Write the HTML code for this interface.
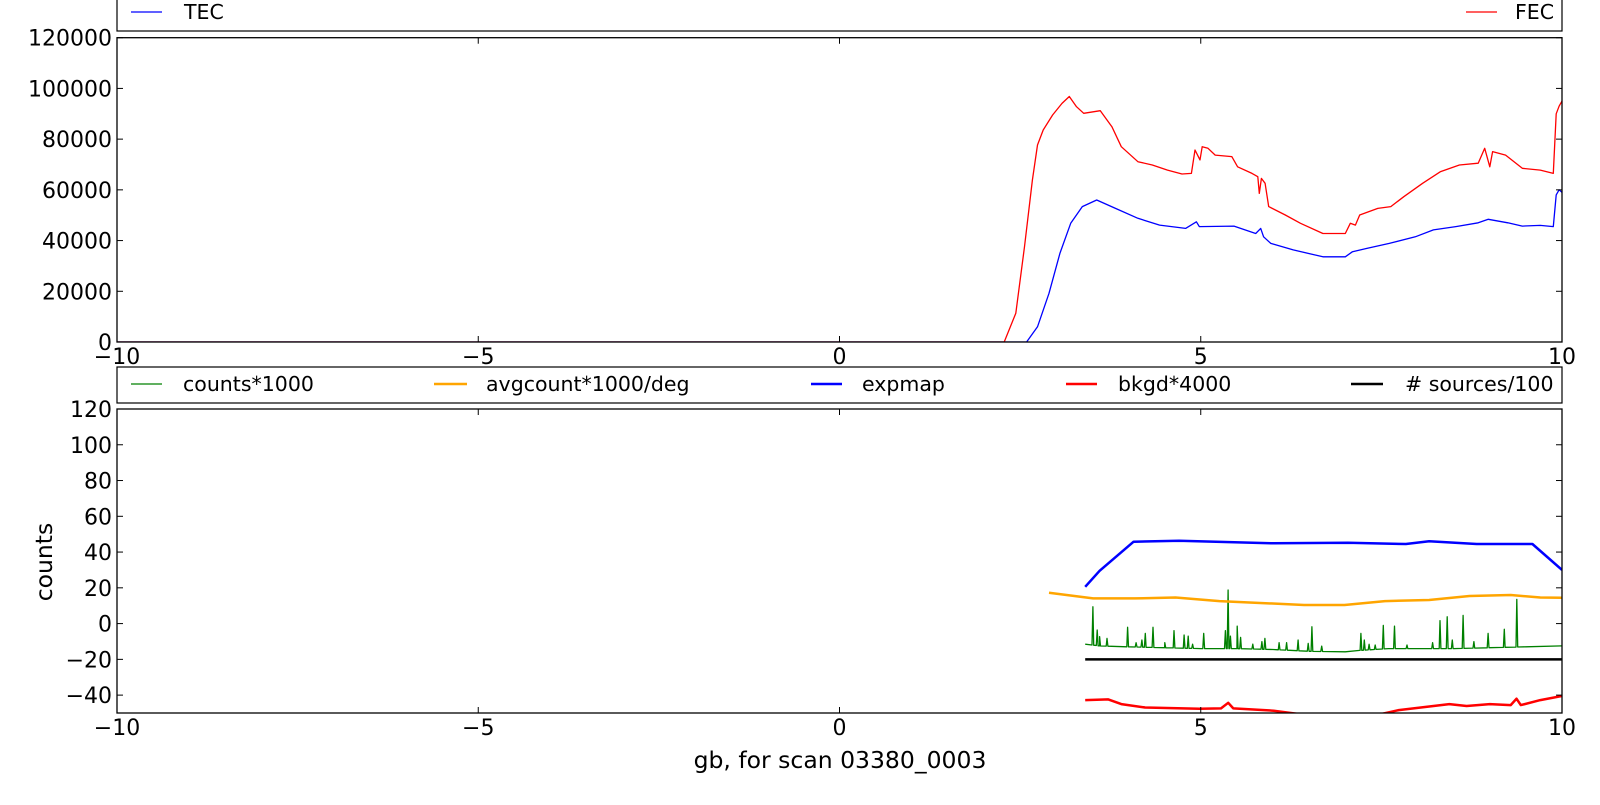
<!DOCTYPE html>
<html><head><meta charset="utf-8"><style>
body{margin:0;background:#fff;}
svg text{font-family:"DejaVu Sans","Liberation Sans",sans-serif;font-size:22px;fill:#000;}
svg text.leg{font-size:20.5px;}
svg text.ttl{font-size:23.5px;}
</style></head><body>
<svg id="chart" width="1600" height="800" xmlns="http://www.w3.org/2000/svg">
<defs>
<clipPath id="clipTop"><rect x="117" y="37.7" width="1445" height="304.3"/></clipPath>
<clipPath id="clipBot"><rect x="117" y="409" width="1445" height="304"/></clipPath>
</defs>
<g id="top-legend">
<rect x="117" y="-2" width="1445" height="33" fill="#fff" stroke="#000" stroke-width="1.2"/>
<line x1="131" y1="12" x2="162" y2="12" stroke="#0000ff" stroke-width="1.2"/>
<text class="leg" x="184" y="19">TEC</text>
<line x1="1466" y1="12" x2="1497" y2="12" stroke="#ff0000" stroke-width="1.2"/>
<text class="leg" x="1515" y="19">FEC</text>
</g>
<g id="bot-legend">
<rect x="117" y="367" width="1445" height="36" fill="#fff" stroke="#000" stroke-width="1.2"/>
<line x1="131" y1="384" x2="162" y2="384" stroke="#008000" stroke-width="1.2"/>
<text class="leg" x="183" y="391">counts*1000</text>
<line x1="434" y1="384" x2="467" y2="384" stroke="#ffa500" stroke-width="2.5"/>
<text class="leg" x="486" y="391">avgcount*1000/deg</text>
<line x1="811" y1="384" x2="842" y2="384" stroke="#0000ff" stroke-width="2.5"/>
<text class="leg" x="862" y="391">expmap</text>
<line x1="1066" y1="384" x2="1097" y2="384" stroke="#ff0000" stroke-width="2.5"/>
<text class="leg" x="1118" y="391">bkgd*4000</text>
<line x1="1351" y1="384" x2="1383" y2="384" stroke="#000" stroke-width="2.5"/>
<text class="leg" x="1405" y="391"># sources/100</text>
</g>
<g id="layer"></g>
<text class="ttl" x="52" y="562" text-anchor="middle" transform="rotate(-90 52 562)">counts</text>
<text class="ttl" x="840" y="768" text-anchor="middle">gb, for scan 03380_0003</text>
</svg>
<script>
const xTicks=[-10,-5,0,5,10];
const topYTicks=[0,20000,40000,60000,80000,100000,120000];
const botYTicks=[-40,-20,0,20,40,60,80,100,120];
const fecX=[-10,2.28,2.44,2.56,2.67,2.74,2.82,2.95,3.08,3.18,3.28,3.38,3.61,3.77,3.90,4.13,4.33,4.54,4.74,4.87,4.92,4.99,5.02,5.10,5.20,5.43,5.51,5.71,5.79,5.81,5.84,5.89,5.94,6.17,6.38,6.69,7.00,7.07,7.14,7.20,7.45,7.63,7.81,8.07,8.32,8.58,8.84,8.93,9.00,9.04,9.22,9.45,9.70,9.88,9.92,9.96,10];
const fecY=[0,0,11300,37600,63900,77700,83600,89500,94100,96800,92800,90200,91200,84900,77000,71100,69800,67800,66250,66500,75700,71800,77000,76400,73700,73100,69100,66500,65200,58600,64500,62600,53400,50100,46800,42800,42800,46800,46100,50100,52700,53400,57300,62600,67200,69800,70500,76400,69100,75100,73700,68500,67800,66500,90000,93000,95000];
const tecX=[-10,2.59,2.74,2.90,3.05,3.20,3.36,3.56,3.82,4.13,4.43,4.79,4.94,4.98,5.46,5.76,5.83,5.87,5.97,6.28,6.69,7.00,7.10,7.30,7.61,7.97,8.22,8.53,8.84,8.98,9.25,9.45,9.70,9.88,9.92,9.96,10];
const tecY=[0,0,6000,19200,34950,46800,53400,56000,52700,48800,46100,44800,47400,45500,45700,42800,44800,41500,38900,36300,33600,33600,35600,36900,38900,41500,44200,45500,47000,48400,47000,45700,46000,45500,58000,60000,59000];
const expX=[3.40,3.6,4.07,4.70,6.01,7.04,7.84,8.16,8.82,9.59,10];
const expY=[20.6,29.5,45.8,46.3,44.9,45.2,44.5,46,44.5,44.5,30];
const avgX=[2.90,3.51,4.09,4.65,5.26,6.43,6.99,7.55,8.16,8.72,9.29,9.70,10];
const avgY=[17.3,14.1,14.1,14.6,12.6,10.4,10.4,12.6,13.2,15.4,16,14.6,14.5];
const srcX=[3.40,10];
const srcY=[-20,-20];
const bkgX=[3.40,3.72,3.90,4.23,4.98,5.28,5.38,5.45,6.01,6.34,7.04,7.51,7.74,8.44,8.68,9.0,9.29,9.37,9.43,9.70,10];
const bkgY=[-42.8,-42.4,-45,-46.9,-47.6,-47.4,-44.3,-47.4,-48.7,-50.5,-51.5,-50.5,-48.4,-45,-46.1,-45,-45.6,-42,-45.6,-42.8,-40.5];
const baseX=[3.40,3.6,4.0,4.5,5.0,5.5,6.0,6.5,7.0,7.2,7.6,8.0,8.5,9.0,9.5,10];
const baseY=[-11.5,-12.5,-13,-13.5,-14,-14,-14.5,-15.5,-15.8,-15,-14,-14,-14,-13.5,-13,-12.5];
const spikeX=[3.507,3.567,3.600,3.703,3.988,4.105,4.185,4.232,4.339,4.503,4.630,4.770,4.826,4.887,5.041,5.341,5.378,5.411,5.505,5.551,5.720,5.846,5.888,6.085,6.188,6.347,6.487,6.539,6.674,7.217,7.264,7.330,7.414,7.526,7.681,7.854,8.209,8.312,8.411,8.481,8.631,8.780,8.977,9.201,9.375];
const spikeY=[9.4,-3.6,-7.3,-8.3,-2.1,-10.7,-9.2,-5.5,-2.1,-10.7,-4.0,-6.4,-7.0,-11.5,-5.5,-4.0,18.8,-7.0,-1.4,-7.7,-11.5,-10.1,-8.3,-10.7,-10.7,-9.2,-11.1,-1.8,-12.6,-5.5,-9.2,-11.6,-12.0,-1.0,-1.4,-12.0,-10.7,1.6,3.8,-9.2,4.6,-10.1,-5.5,-3.2,13.5];

const L=117,R=1562;
const sx=v=>L+(v+10)/20*(R-L);
const tT=37.7,tB=342; const syT=v=>tB-(v/120000)*(tB-tT);
const bT=409,bB=713; const syB=v=>bB-((v+50)/170)*(bB-bT);
const NS="http://www.w3.org/2000/svg";
const layer=document.getElementById('layer');
function mk(tag,attrs,parent){const e=document.createElementNS(NS,tag);for(const k in attrs)e.setAttribute(k,attrs[k]);(parent||layer).appendChild(e);return e;}
function interp(xs,ys,x){if(x<=xs[0])return ys[0];for(let i=1;i<xs.length;i++){if(x<=xs[i]){const t=(x-xs[i-1])/(xs[i]-xs[i-1]);return ys[i-1]+t*(ys[i]-ys[i-1]);}}return ys[ys.length-1];}
function line(xs,ys,fy,color,w,clip,name){
  const d=xs.map((x,i)=>(i?'L':'M')+sx(x).toFixed(1)+','+fy(ys[i]).toFixed(1)).join('');
  const p=mk('path',{d:d,fill:'none',stroke:color,'stroke-width':w,'clip-path':'url(#'+clip+')','stroke-linejoin':'round'});
  
  
}
function axes(top,bottom,yTicks,fy,name){
  const g=mk('g',{});
  
  
  mk('rect',{x:L,y:top,width:R-L,height:bottom-top,fill:'none',stroke:'#000','stroke-width':1.3},g);
  xTicks.forEach(t=>{const x=sx(t);
    mk('line',{x1:x,y1:bottom,x2:x,y2:bottom-6,stroke:'#000'},g);
    mk('line',{x1:x,y1:top,x2:x,y2:top+6,stroke:'#000'},g);
    const tx=mk('text',{x:x,y:bottom+22,'text-anchor':'middle'},g);tx.textContent=t<0?'\u2212'+(-t):String(t);
    
    
  });
  yTicks.forEach(t=>{const y=fy(t);
    mk('line',{x1:L,y1:y,x2:L+6,y2:y,stroke:'#000'},g);
    mk('line',{x1:R,y1:y,x2:R-6,y2:y,stroke:'#000'},g);
    const tx=mk('text',{x:L-5,y:y+8,'text-anchor':'end'},g);tx.textContent=t<0?'\u2212'+(-t):String(t);
    
    
  });
}
line(tecX,tecY,syT,'#0000ff',1.3,'clipTop','tec-line');
line(fecX,fecY,syT,'#ff0000',1.3,'clipTop','fec-line');
axes(tT,tB,topYTicks,syT,'top-axes');
const cx=[],cy=[];
baseX.forEach((x,i)=>{cx.push(x);cy.push(baseY[i]);});
spikeX.forEach((x,i)=>{
  [x-0.012,x,x+0.012].forEach((xx,j)=>{cx.push(xx);cy.push(j===1?spikeY[i]:interp(baseX,baseY,xx));});
});
const ord=cx.map((x,i)=>i).sort((a,b)=>cx[a]-cx[b]);
line(ord.map(i=>cx[i]),ord.map(i=>cy[i]),syB,'#008000',1.3,'clipBot','counts-line');
line(avgX,avgY,syB,'#ffa500',2.5,'clipBot','avgcount-line');
line(expX,expY,syB,'#0000ff',2.5,'clipBot','expmap-line');
line(bkgX,bkgY,syB,'#ff0000',2.5,'clipBot','bkgd-line');
line(srcX,srcY,syB,'#000000',2.5,'clipBot','sources-line');
axes(bT,bB,botYTicks,syB,'bottom-axes');
</script>
</body></html>
